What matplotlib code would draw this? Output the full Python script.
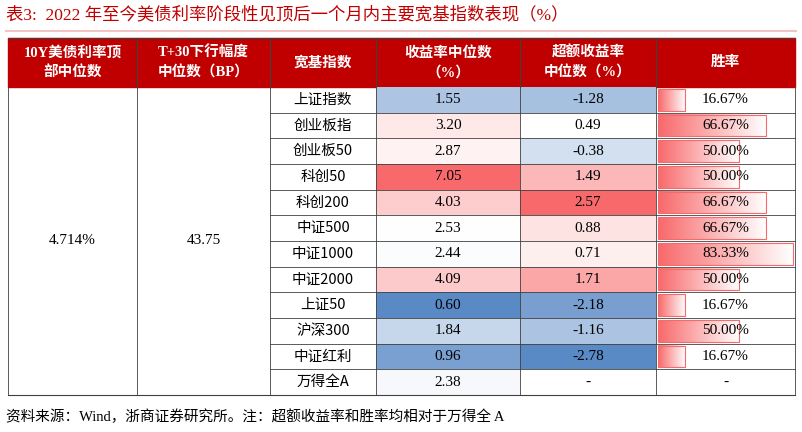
import numpy as np
import matplotlib.pyplot as plt
from matplotlib.patches import Rectangle
from matplotlib.colors import to_rgb

plt.rcParams['font.family'] = ['Liberation Serif', 'Noto Sans CJK SC']

title = '表3:  2022 年至今美债利率阶段性见顶后一个月内主要宽基指数表现（%）'
footer = '资料来源：Wind，浙商证券研究所。注：超额收益率和胜率均相对于万得全 A'
headers = ['10Y美债利率顶\n部中位数', 'T+30下行幅度\n中位数（BP）', '宽基指数',
           '收益率中位数\n（%）', '超额收益率\n中位数（%）', '胜率']
peak_median = '4.714%'
drop_median = '43.75'
indices = ['上证指数', '创业板指', '创业板50', '科创50', '科创200', '中证500',
           '中证1000', '中证2000', '上证50', '沪深300', '中证红利', '万得全A']
ret = [1.55, 3.20, 2.87, 7.05, 4.03, 2.53, 2.44, 4.09, 0.60, 1.84, 0.96, 2.38]
excess = [-1.28, 0.49, -0.38, 1.49, 2.57, 0.88, 0.71, 1.71, -2.18, -1.16, -2.78, None]
win = [16.67, 66.67, 50.00, 50.00, 66.67, 66.67, 83.33, 50.00, 16.67, 50.00, 16.67, None]

RED = np.array(to_rgb('#F8696B'))
BLUE = np.array(to_rgb('#5A8AC6'))
WHITE = np.ones(3)

def scale_color(v, vals):
    vals = [x for x in vals if x is not None]
    lo, hi, mid = min(vals), max(vals), np.median(vals)
    if v >= mid:
        t = (v - mid) / (hi - mid)
        return WHITE + t * (RED - WHITE)
    t = (mid - v) / (mid - lo)
    return WHITE + t * (BLUE - WHITE)

fig = plt.figure(figsize=(8.02, 4.32), dpi=100)
ax = fig.add_axes([0, 0, 1, 1])
ax.set_xlim(0, 802)
ax.set_ylim(432, 0)
ax.axis('off')

xs = [8, 137, 270, 376, 520, 656, 795]
ytop, yh = 38, 87
ybot = 395
rh = (ybot - yh) / len(indices)

ax.text(6, 15, title, color='#C00000', fontsize=12.5, va='center', ha='left')
ax.plot([6, 796], [31, 31], color='#F2C4C4', lw=1.5)

# header
ax.add_patch(Rectangle((xs[0], ytop), xs[-1] - xs[0], yh - ytop, color='#C00000'))
for i, h in enumerate(headers):
    cx = (xs[i] + xs[i + 1]) / 2
    ax.text(cx, (ytop + yh) / 2, h, color='white', fontsize=10.5, fontweight='bold',
            ha='center', va='center', linespacing=1.5)
    if i > 0:
        ax.plot([xs[i], xs[i]], [ytop, yh], color='#404040', lw=0.8)

# body
for r in range(len(indices)):
    y0 = yh + r * rh
    yc = y0 + rh / 2
    ax.add_patch(Rectangle((xs[3], y0), xs[4] - xs[3], rh,
                           facecolor=scale_color(ret[r], ret), edgecolor='none'))
    if excess[r] is not None:
        ax.add_patch(Rectangle((xs[4], y0), xs[5] - xs[4], rh,
                               facecolor=scale_color(excess[r], excess), edgecolor='none'))
    if win[r] is not None:
        bw = (xs[6] - xs[5] - 4) * win[r] / max(w for w in win if w is not None)
        grad = np.linspace(0, 1, 100)[None, :, None]
        img = RED[None, None, :] * (1 - grad) + WHITE[None, None, :] * grad
        ax.imshow(img, extent=(xs[5] + 2, xs[5] + 2 + bw, y0 + rh - 2, y0 + 2),
                  aspect='auto', zorder=2)
        ax.add_patch(Rectangle((xs[5] + 2, y0 + 2), bw, rh - 4, fill=False,
                               edgecolor='#F8696B', lw=0.8, zorder=3))
    ax.text((xs[2] + xs[3]) / 2, yc, indices[r], fontsize=10.5, ha='center', va='center',
            family=['Noto Sans CJK SC'])
    ax.text((xs[3] + xs[4]) / 2, yc, f'{ret[r]:.2f}', fontsize=11, ha='center', va='center')
    ax.text((xs[4] + xs[5]) / 2, yc, '-' if excess[r] is None else f'{excess[r]:.2f}',
            fontsize=11, ha='center', va='center')
    ax.text((xs[5] + xs[6]) / 2, yc, '-' if win[r] is None else f'{win[r]:.2f}%',
            fontsize=11, ha='center', va='center', zorder=4)
    ax.plot([xs[2], xs[6]], [y0 + rh, y0 + rh], color='#404040', lw=0.6, zorder=5)

ax.text((xs[0] + xs[1]) / 2, (yh + ybot) / 2, peak_median, fontsize=11, ha='center', va='center')
ax.text((xs[1] + xs[2]) / 2, (yh + ybot) / 2, drop_median, fontsize=11, ha='center', va='center')

for x in xs:
    ax.plot([x, x], [yh, ybot], color='#404040', lw=0.6, zorder=5)
ax.plot([xs[0], xs[-1]], [ybot, ybot], color='#404040', lw=0.8, zorder=5)
ax.plot([xs[0], xs[-1]], [ytop, ytop], color='#404040', lw=0.8, zorder=5)

ax.text(6, 417, footer, fontsize=10.5, ha='left', va='center')

fig.savefig('out.png', dpi=100)
